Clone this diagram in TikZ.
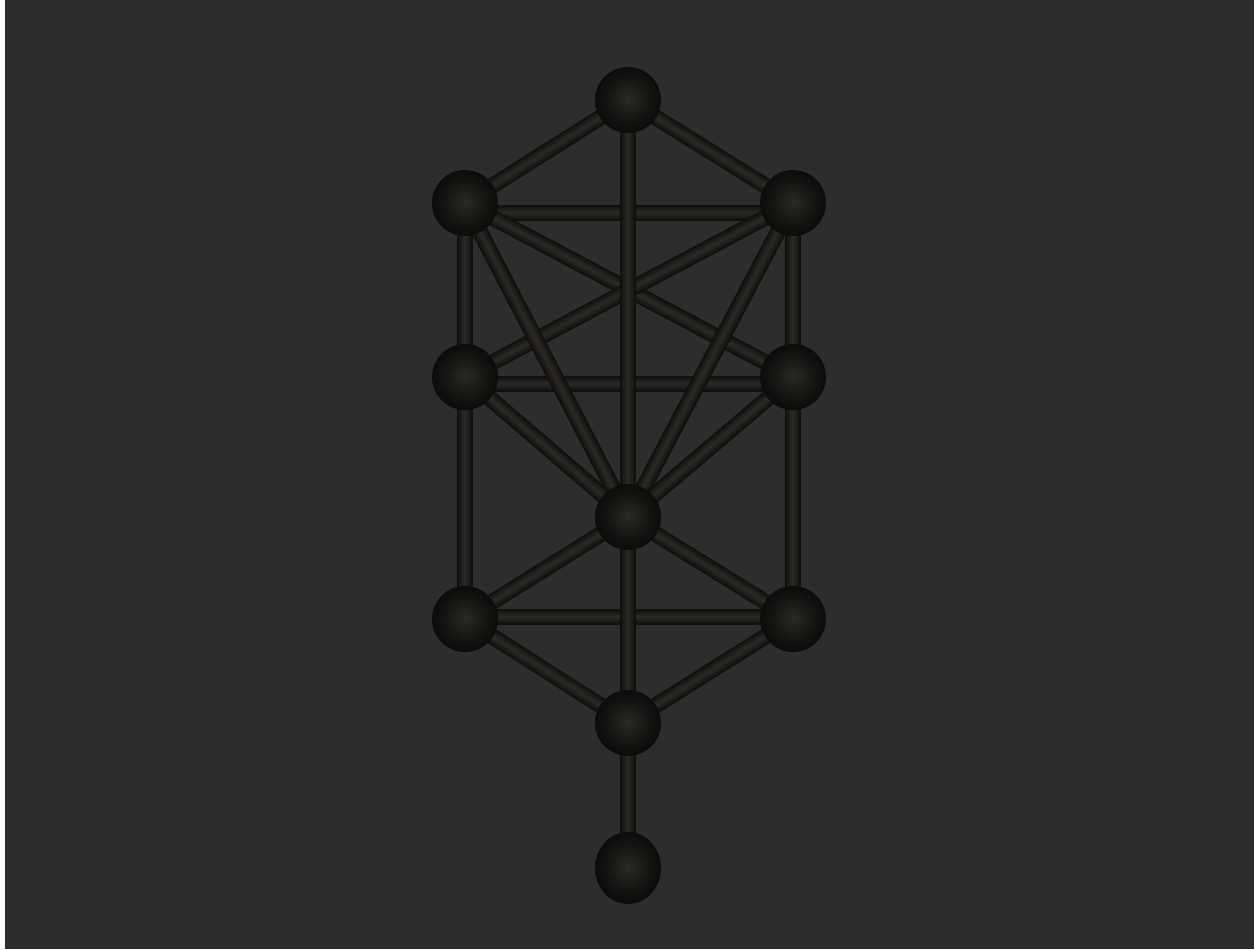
\documentclass[tikz,border=0pt]{standalone}
\usetikzlibrary{calc,shapes.geometric}
\definecolor{bg}{HTML}{2D2D2D}
\definecolor{rod1}{HTML}{111010}
\definecolor{rod2}{HTML}{171614}
\definecolor{rod3}{HTML}{1E1C19}
\definecolor{rod4}{HTML}{25231F}
\definecolor{rod5}{HTML}{2B2824}
\definecolor{sA}{HTML}{2B2926}
\definecolor{sB}{HTML}{23211E}
\definecolor{sC}{HTML}{161513}
\definecolor{sD}{HTML}{0D0D0C}
\pgfdeclareradialshading{sph}{\pgfpoint{0bp}{1bp}}{color(0bp)=(sA); color(6bp)=(sB); color(15bp)=(sC); color(23bp)=(sD); color(25bp)=(sD); color(50bp)=(sD)}
\begin{document}
\begin{tikzpicture}[x=0.5pt,y=-0.5pt,
  rod/.style={draw=rod5, line width=1.2pt,
    preaction={draw=rod1, line width=8pt},
    preaction={draw=rod2, line width=6.4pt},
    preaction={draw=rod3, line width=4.8pt},
    preaction={draw=rod4, line width=3pt}},
  sphere/.style={circle, minimum size=33pt, inner sep=0pt, shading=sph},
  oval/.style={ellipse, minimum width=33pt, minimum height=36pt, inner sep=0pt, shading=sph}]
\useasboundingbox (0,0) rectangle (1254,949);
\fill[white] (0,0) rectangle (1254,949);
\fill[bg] (5,0) rectangle (1254,949);
% positions
\coordinate (k) at (628,100);
\coordinate (ul) at (465,203);
\coordinate (ur) at (793,203);
\coordinate (ml) at (465,377);
\coordinate (mr) at (793,377);
\coordinate (c) at (628,517);
\coordinate (ll) at (465,619);
\coordinate (lr) at (793,619);
\coordinate (b) at (628,723);
\coordinate (m) at (628,868);
% horizontal rods (slightly offset by perspective)
\draw[rod] ([yshift=-5pt]ul) -- ([yshift=-5pt]ur);
\draw[rod] ([yshift=-3.5pt]ml) -- ([yshift=-3.5pt]mr);
\draw[rod] ([yshift=1pt]ll) -- ([yshift=1pt]lr);
% other rods
\foreach \a/\b in {k/ul, k/ur, ul/ml, ur/mr, ml/ll, mr/lr, ul/mr, ur/ml,
  ul/c, ur/c, ml/c, mr/c, c/ll, c/lr, ll/b, lr/b, k/c, c/b, b/m}
  \draw[rod] (\a) -- (\b);
% spheres
\foreach \p in {k, ul, ur, ml, mr, c, ll, lr, b}
  \node[sphere] (S\p) at (\p) {};
\node[oval] (Sm) at (m) {};
\end{tikzpicture}
\end{document}
